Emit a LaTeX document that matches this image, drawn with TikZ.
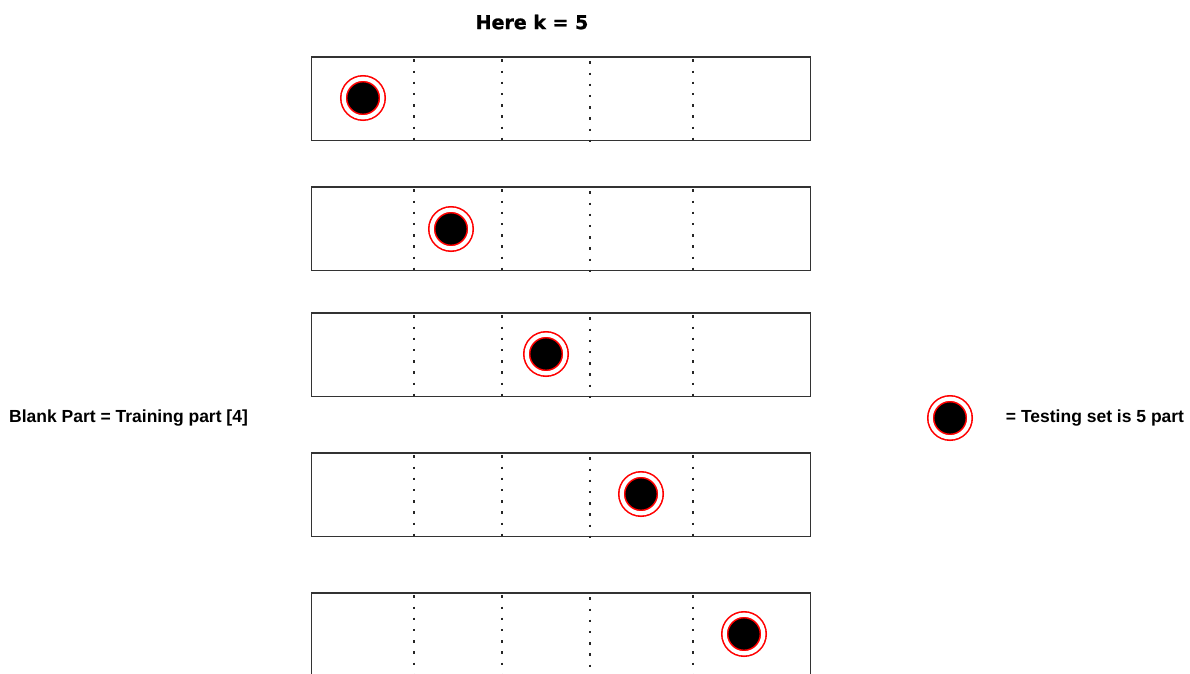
\documentclass[tikz,border=0pt]{standalone}
\usepackage{fontspec}
\setmainfont{Liberation Sans}
\newfontfamily\titlefont[FakeBold=1.2]{DejaVu Sans Bold}

\begin{document}
\begin{tikzpicture}[x=1pt,y=-1pt,
  part/.style={draw=black!80,line width=1.6pt},
  split/.style={black!85,line width=2.4pt,dash pattern=on 2.4pt off 8.8pt},
  testdot/.style={circle,inner sep=0pt,minimum size=38.6pt,fill=black,draw=red,
    line width=1.6pt,double=white,double distance=4.2pt},
  note/.style={font=\fontsize{17.5}{20}\selectfont\bfseries}]
  \useasboundingbox (0,0) rectangle (1190,673);
  \clip (0,0) rectangle (1190,673);
  \node[font=\titlefont\fontsize{19}{22}\selectfont] (title) at (532,22) {Here k = 5};
  % fold 1
  \draw[part] (311.5,57) rectangle (810.5,140.5);
  \draw[split] (414,59.3) -- (414,141) (502,59.3) -- (502,141) (590,61.3) -- (590,143) (693,59.3) -- (693,141);
  \node[testdot] (test1) at (363,98) {};
  % fold 2
  \draw[part] (311.5,187) rectangle (810.5,270.5);
  \draw[split] (414,189.3) -- (414,271) (502,189.3) -- (502,271) (590,191.3) -- (590,273) (693,189.3) -- (693,271);
  \node[testdot] (test2) at (451,229) {};
  % fold 3
  \draw[part] (311.5,313) rectangle (810.5,396.5);
  \draw[split] (414,315.3) -- (414,397) (502,315.3) -- (502,397) (590,317.3) -- (590,399) (693,315.3) -- (693,397);
  \node[testdot] (test3) at (546,354) {};
  % fold 4
  \draw[part] (311.5,453) rectangle (810.5,536.5);
  \draw[split] (414,455.3) -- (414,537) (502,455.3) -- (502,537) (590,457.3) -- (590,539) (693,455.3) -- (693,537);
  \node[testdot] (test4) at (641,494) {};
  % fold 5
  \draw[part] (311.5,593) rectangle (810.5,676.5);
  \draw[split] (414,595.3) -- (414,677) (502,595.3) -- (502,677) (590,597.3) -- (590,679) (693,595.3) -- (693,677);
  \node[testdot] (test5) at (744,634) {};
  % legend
  \node[note] (blank) at (128.5,418) {Blank Part = Training part [4]};
  \node[testdot] (key) at (950,418) {};
  \node[note] (testing) at (1095,418) {= Testing set is 5 part};
\end{tikzpicture}
\end{document}
